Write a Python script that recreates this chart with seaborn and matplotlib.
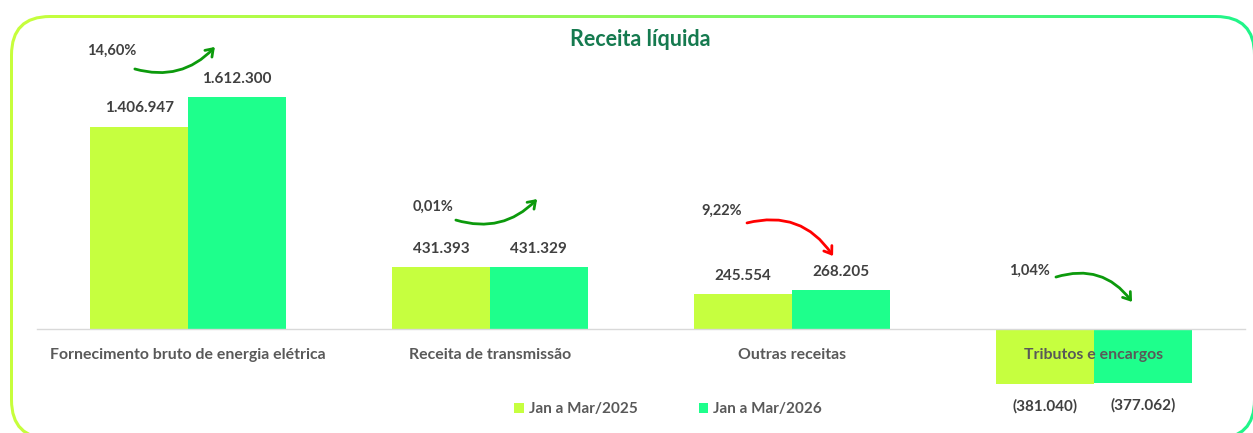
"""
Receita líquida: Jan a Mar/2025 vs Jan a Mar/2026.
"""

import matplotlib.pyplot as plt
import matplotlib.colors as mcolors
import numpy as np
import pandas as pd
import seaborn as sns
from matplotlib.patches import FancyBboxPatch

categorias = [
    "Fornecimento bruto de energia elétrica",
    "Receita de transmissão",
    "Outras receitas",
    "Tributos e encargos",
]
periodos = ["Jan a Mar/2025", "Jan a Mar/2026"]
valores_2025 = [1406947, 431393, 245554, -381040]
valores_2026 = [1612300, 431329, 268205, -377062]
variacoes = ["14,60%", "0,01%", "9,22%", "1,04%"]

# arrow layout per category: text dx, text y, start dx, start y, end dx, end y, rad, color
setas = [
    (-0.252, 1.93e6, -0.176, 1.807e6, 0.089, 1.960e6, 0.3, "#0c9a0c"),
    (-0.189, 0.852e6, -0.113, 0.757e6, 0.156, 0.903e6, 0.3, "#0c9a0c"),
    (-0.232, 0.824e6, -0.149, 0.737e6, 0.136, 0.507e6, -0.35, "#ff0000"),
    (-0.215, 0.407e6, -0.126, 0.361e6, 0.126, 0.188e6, -0.35, "#0c9a0c"),
]

cores = ["#c6ff3f", "#1eff8c"]
texto = "#404040"

df = pd.DataFrame({
    "categoria": categorias * 2,
    "periodo": [periodos[0]] * 4 + [periodos[1]] * 4,
    "valor": valores_2025 + valores_2026,
})

sns.set_style("white")
plt.rcParams["font.family"] = ["Lato", "DejaVu Sans"]
plt.rcParams["font.weight"] = "bold"

W, H = 1253, 433
fig = plt.figure(figsize=(W / 100, H / 100), dpi=100)

# rounded gradient frame
bg = fig.add_axes([0, 0, 1, 1], zorder=0)
bg.set_xlim(0, W)
bg.set_ylim(H, 0)
bg.axis("off")
outer = FancyBboxPatch((10, 15), 1246, 425, boxstyle="round,pad=0,rounding_size=40",
                       transform=bg.transData, facecolor="none", edgecolor="none")
bg.add_patch(outer)
cmap = mcolors.LinearSegmentedColormap.from_list("moldura", ["#c8ff3c", "#8ff85a", "#20f58a"])
grad = np.linspace(0, 1, 256).reshape(1, -1)
img = bg.imshow(grad, extent=(0, W, H, 0), aspect="auto", cmap=cmap)
img.set_clip_path(outer)
bg.add_patch(FancyBboxPatch((13, 18), 1240, 419, boxstyle="round,pad=0,rounding_size=37",
                            facecolor="white", edgecolor="none"))

ax = fig.add_axes([37 / W, 1 - 420 / H, 1208 / W, 380 / H], zorder=1)
ax.patch.set_alpha(0)

sns.barplot(data=df, x="categoria", y="valor", hue="periodo", palette=cores,
            width=0.646, saturation=1, linewidth=0, edgecolor="none", ax=ax, legend=True)

ax.set_axisbelow(False)
ax.set_xlim(-0.5, 3.5)
ax.set_ylim(-632383, 2008339)
ax.set_xlabel("")
ax.set_ylabel("")
ax.set_yticks([])
for s in ["left", "right", "top"]:
    ax.spines[s].set_visible(False)
ax.spines["bottom"].set_position(("data", 0))
ax.spines["bottom"].set_color("#d9d9d9")
ax.spines["bottom"].set_linewidth(1)
ax.set_xticks(np.arange(-0.5, 4, 1), minor=True)
ax.tick_params(axis="x", which="major", length=0, pad=13.5, labelsize=11.4, labelcolor="#595959")
ax.tick_params(axis="x", which="minor", length=5, color="#d9d9d9", width=1)

# value labels
def fmt(v):
    s = f"{abs(v):,}".replace(",", ".")
    return f"({s})" if v < 0 else s

for container in ax.containers:
    for bar in container:
        h = bar.get_height()
        off = 13 if h >= 0 else -16
        ax.annotate(fmt(int(round(h))), xy=(bar.get_x() + bar.get_width() / 2, h),
                    xytext=(0, off), textcoords="offset points",
                    ha="center", va="center", fontsize=11, color=texto, fontweight="bold")

# variation labels with curved arrows
for i, (pct, s) in enumerate(zip(variacoes, setas)):
    tdx, ty, x0, y0, x1, y1, rad, cor = s
    ax.text(i + tdx, ty, pct, ha="center", va="center", fontsize=10.5, color=texto,
            fontweight="bold")
    ax.annotate("", xy=(i + x1, y1), xytext=(i + x0, y0),
                arrowprops=dict(arrowstyle="->,head_length=0.5,head_width=0.35", color=cor,
                                lw=2, connectionstyle=f"arc3,rad={rad}",
                                shrinkA=0, shrinkB=0))

leg = ax.legend(loc="center", bbox_to_anchor=(668 / W, 1 - 409 / H),
                bbox_transform=fig.transFigure, ncol=2, frameon=False,
                handlelength=0.65, handleheight=0.65, handletextpad=0.3,
                columnspacing=4.0, fontsize=11)
for t in leg.get_texts():
    t.set_color("#595959")

fig.text(640 / W, 1 - 40 / H, "Receita líquida", ha="center", va="center",
         fontsize=15.5, fontweight="bold", color="#157a4f")

fig.savefig("out.png", dpi=100)
